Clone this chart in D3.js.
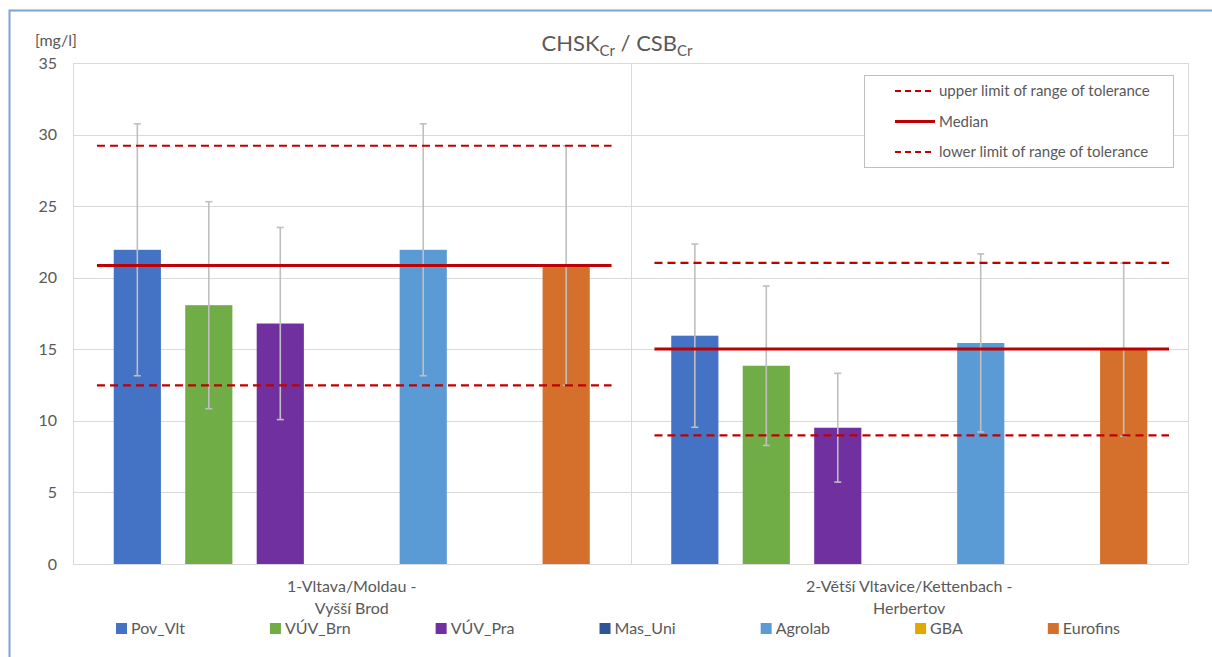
<!DOCTYPE html>
<html>
<head>
<meta charset="utf-8">
<script src="https://cdn.jsdelivr.net/npm/d3@7"></script>
<style>
  html, body { margin: 0; padding: 0; background: #fff; overflow: hidden; }
  svg { display: block; font-family: Lato, "Open Sans", sans-serif; }
</style>
</head>
<body>
<svg id="chart" width="1212" height="657"></svg>
<script>
// Sampling sites (categories) and participating laboratories (series)
const sites = ["1-Vltava/Moldau -\nVyšší Brod", "2-Větší Vltavice/Kettenbach -\nHerbertov"];
const labs = ["Pov_Vlt", "VÚV_Brn", "VÚV_Pra", "Mas_Uni", "Agrolab", "GBA", "Eurofins"];
const labColors = ["#4472C4", "#70AD47", "#7030A0", "#2F5597", "#5B9BD5", "#E0A800", "#D4702C"];

// Measured values per lab, one entry per site (null = no result)
const povVlt   = [21.95, 15.95];
const vuvBrn   = [18.08, 13.85];
const vuvPra   = [16.80, 9.52];
const masUni   = [null, null];
const agrolab  = [21.95, 15.44];
const gba      = [null, null];
const eurofins = [20.85, 14.97];

// Uncertainty (± half length of the error bar) per lab and site
const povVltErr   = [8.80, 6.40];
const vuvBrnErr   = [7.23, 5.57];
const vuvPraErr   = [6.71, 3.80];
const masUniErr   = [null, null];
const agrolabErr  = [8.80, 6.22];
const gbaErr      = [null, null];
const eurofinsErr = [8.37, 6.05];

// Median and range of tolerance per site
const median     = [20.85, 15.02];
const upperLimit = [29.22, 21.04];
const lowerLimit = [12.48, 8.98];

const yTicks = [0, 5, 10, 15, 20, 25, 30, 35];

const seriesValues = [povVlt, vuvBrn, vuvPra, masUni, agrolab, gba, eurofins];
const seriesErrors = [povVltErr, vuvBrnErr, vuvPraErr, masUniErr, agrolabErr, gbaErr, eurofinsErr];

const textColor = "#595959";
const gridColor = "#D9D9D9";
const limitRed = "#C00000";

const svg = d3.select("#chart");

// outer chart frame (top and left edges fall inside the page)
svg.append("path")
  .attr("d", "M1212,10.5 H9.5 V657")
  .attr("fill", "none").attr("stroke", "#7FA3D6").attr("stroke-width", 2);

const plot = { left: 73, right: 1188, top: 63, bottom: 564 };

const y = d3.scaleLinear().domain([0, 35]).range([plot.bottom, plot.top]);
const x0 = d3.scaleBand().domain(sites).range([plot.left, plot.right]).padding(0);
const x1 = d3.scaleBand().domain(labs).range([0, x0.bandwidth()])
  .paddingInner(0.34).paddingOuter(0.57);

// horizontal gridlines
svg.append("g").selectAll("line").data(yTicks.filter(t => t > 0)).join("line")
  .attr("x1", plot.left).attr("x2", plot.right)
  .attr("y1", d => Math.round(y(d)) + 0.5).attr("y2", d => Math.round(y(d)) + 0.5)
  .attr("stroke", gridColor).attr("stroke-width", 1);

// vertical category boundaries
const bounds = [plot.left, ...sites.slice(1).map(s => x0(s)), plot.right];
svg.append("g").selectAll("line").data(bounds).join("line")
  .attr("x1", d => Math.round(d) + 0.5).attr("x2", d => Math.round(d) + 0.5)
  .attr("y1", plot.top).attr("y2", plot.bottom)
  .attr("stroke", gridColor).attr("stroke-width", 1);

// category axis baseline
svg.append("line")
  .attr("x1", plot.left).attr("x2", plot.right)
  .attr("y1", plot.bottom + 0.5).attr("y2", plot.bottom + 0.5)
  .attr("stroke", gridColor).attr("stroke-width", 1);

// y axis tick labels
const yAxis = d3.axisLeft(y).tickValues(yTicks).tickSize(0).tickPadding(0);
const yg = svg.append("g").attr("transform", `translate(${plot.left - 16},0)`).call(yAxis);
yg.select(".domain").remove();
yg.selectAll("text").attr("fill", textColor).style("font-size", "16px")
  .style("font-family", "Lato, 'Open Sans', sans-serif");

// unit label
svg.append("text").attr("x", 35).attr("y", 46)
  .attr("fill", textColor).style("font-size", "16px").text("[mg/l]");

// title with subscripts
const title = svg.append("text").attr("x", 617).attr("y", 51)
  .attr("text-anchor", "middle").attr("fill", textColor).style("font-size", "22px");
title.append("tspan").text("CHSK");
title.append("tspan").attr("dy", 5).style("font-size", "15px").text("Cr");
title.append("tspan").attr("dy", -5).text(" / CSB");
title.append("tspan").attr("dy", 5).style("font-size", "15px").text("Cr");

// bars
const barRows = [];
sites.forEach((site, si) => {
  labs.forEach((lab, li) => {
    const v = seriesValues[li][si];
    if (v != null) barRows.push({ site, lab, li, v, err: seriesErrors[li][si] });
  });
});

svg.append("g").selectAll("rect").data(barRows).join("rect")
  .attr("x", d => x0(d.site) + x1(d.lab))
  .attr("width", x1.bandwidth())
  .attr("y", d => y(d.v))
  .attr("height", d => y(0) - y(d.v))
  .attr("fill", d => labColors[d.li]);

// error bars
const eb = svg.append("g").attr("stroke", "#BFBFBF").attr("stroke-width", 1.6).attr("fill", "none");
barRows.filter(d => d.err != null).forEach(d => {
  const cx = x0(d.site) + x1(d.lab) + x1.bandwidth() / 2;
  const yTop = y(d.v + d.err), yBot = y(d.v - d.err);
  eb.append("line").attr("x1", cx).attr("x2", cx).attr("y1", yTop).attr("y2", yBot);
  eb.append("line").attr("x1", cx - 3.5).attr("x2", cx + 3.5).attr("y1", yTop).attr("y2", yTop);
  eb.append("line").attr("x1", cx - 3.5).attr("x2", cx + 3.5).attr("y1", yBot).attr("y2", yBot);
});

// median and tolerance limits per site
const lineStart = 0.043, lineEnd = 0.966;
const limits = svg.append("g");
sites.forEach((site, si) => {
  const xa = x0(site) + x0.bandwidth() * lineStart;
  const xb = x0(site) + x0.bandwidth() * lineEnd;
  [upperLimit[si], lowerLimit[si]].forEach(v => {
    limits.append("line").attr("x1", xa).attr("x2", xb).attr("y1", y(v)).attr("y2", y(v))
      .attr("stroke", limitRed).attr("stroke-width", 2.2).attr("stroke-dasharray", "8,5");
  });
  limits.append("line").attr("x1", xa).attr("x2", xb).attr("y1", y(median[si])).attr("y2", y(median[si]))
    .attr("stroke", limitRed).attr("stroke-width", 3);
});

// category labels (two lines)
sites.forEach(site => {
  const t = svg.append("text").attr("text-anchor", "middle").attr("fill", textColor)
    .style("font-size", "16px");
  site.split("\n").forEach((line, i) => {
    t.append("tspan").attr("x", x0(site) + x0.bandwidth() / 2).attr("y", 592 + i * 22).text(line);
  });
});

// line legend box
const lg = svg.append("g");
lg.append("rect").attr("x", 864.5).attr("y", 75.5).attr("width", 309).attr("height", 92)
  .attr("fill", "#fff").attr("stroke", "#BFBFBF").attr("stroke-width", 1);
const lineLegend = [
  { label: "upper limit of range of tolerance", dash: "6,4", w: 2 },
  { label: "Median", dash: null, w: 3 },
  { label: "lower limit of range of tolerance", dash: "6,4", w: 2 }
];
lineLegend.forEach((d, i) => {
  const cy = 91 + i * 30.5;
  lg.append("line").attr("x1", 895).attr("x2", 935).attr("y1", cy).attr("y2", cy)
    .attr("stroke", limitRed).attr("stroke-width", d.w)
    .attr("stroke-dasharray", d.dash);
  lg.append("text").attr("x", 939).attr("y", cy + 5).attr("fill", textColor)
    .style("font-size", "15px").text(d.label);
});

// series legend along the bottom
const sl = svg.append("g");
let lx = 116;
labs.forEach((lab, i) => {
  sl.append("rect").attr("x", lx).attr("y", 623).attr("width", 11).attr("height", 11)
    .attr("fill", labColors[i]);
  const t = sl.append("text").attr("x", lx + 15).attr("y", 634).attr("fill", textColor)
    .style("font-size", "16px").text(lab);
  lx = lx + 15 + t.node().getComputedTextLength() + 85;
});
</script>
</body>
</html>
